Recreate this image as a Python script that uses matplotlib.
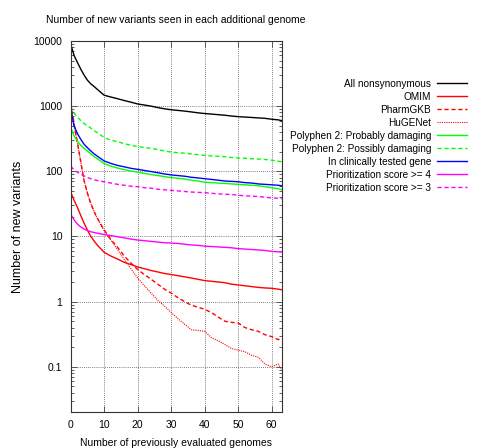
import matplotlib
matplotlib.use("Agg")
import matplotlib.pyplot as plt
from matplotlib.ticker import LogLocator, FixedLocator, NullFormatter, FixedFormatter

plt.rcParams['font.family'] = ['Liberation Sans', 'DejaVu Sans']

genomes = [0, 1, 2, 3, 4, 5, 6, 7, 8, 10, 12, 14, 16, 18, 20, 22, 24, 26, 28, 30,
           32, 34, 36, 38, 40, 42, 44, 46, 48, 50, 52, 54, 56, 58, 60, 62, 63]

all_nonsyn = [9000, 6000, 4700, 3700, 3000, 2500, 2200, 2000, 1800, 1470, 1380, 1300, 1220, 1150,
              1080, 1040, 1000, 950, 910, 880, 860, 840, 815, 790, 770, 755, 740, 725, 705, 690,
              680, 670, 660, 650, 630, 615, 600]
omim = [48, 36, 28, 21, 16, 12.5, 10, 8.5, 7.3, 5.7, 5.0, 4.5, 4.0, 3.7, 3.4, 3.2, 3.0, 2.85, 2.7,
        2.6, 2.5, 2.4, 2.3, 2.2, 2.1, 2.05, 2.0, 1.95, 1.85, 1.8, 1.75, 1.7, 1.65, 1.62, 1.6, 1.55, 1.52]
pharmgkb = [1100, 540, 280, 140, 72, 46, 32, 24, 19, 12.5, 9.0, 6.8, 5.0, 3.9, 3.1, 2.6, 2.2, 1.85,
            1.55, 1.35, 1.15, 1.0, 0.88, 0.82, 0.76, 0.68, 0.58, 0.5, 0.48, 0.47, 0.4, 0.37, 0.35,
            0.31, 0.29, 0.26, 0.28]
hugenet = [1000, 520, 270, 140, 72, 46, 32, 24, 18.5, 12.3, 8.7, 6.3, 4.4, 3.2, 2.3, 1.75, 1.35,
           1.05, 0.85, 0.68, 0.55, 0.45, 0.37, 0.36, 0.35, 0.28, 0.25, 0.22, 0.19, 0.18, 0.17, 0.15,
           0.14, 0.11, 0.1, 0.11, 0.09]
poly_prob = [470, 350, 290, 250, 225, 205, 185, 168, 155, 131, 120, 112, 106, 101, 97, 93, 89, 86,
             83, 80, 78, 76, 73, 71, 68, 67, 66, 65, 64, 63, 62, 61, 60, 58, 56, 54, 52]
poly_poss = [1000, 780, 680, 600, 540, 500, 460, 420, 390, 330, 300, 285, 265, 250, 240, 232, 225,
             215, 205, 197, 193, 190, 185, 180, 176, 172, 170, 168, 163, 160, 158, 156, 154, 152,
             148, 143, 140]
clinical = [900, 500, 380, 310, 260, 230, 205, 185, 170, 144, 132, 123, 117, 111, 107, 103, 99, 95,
            91, 88, 86, 84, 81, 79, 77, 75, 73, 71, 70, 69, 67, 66, 64, 63, 62, 61, 60]
score4 = [22, 18, 15.5, 14, 13, 12.3, 11.8, 11.5, 11.2, 10.7, 10.3, 9.9, 9.5, 9.1, 8.8, 8.6, 8.4,
          8.2, 8.0, 7.9, 7.8, 7.6, 7.4, 7.3, 7.1, 7.0, 6.9, 6.8, 6.7, 6.5, 6.4, 6.3, 6.2, 6.1, 5.9,
          5.8, 5.8]
score3 = [120, 105, 97, 90, 85, 80, 77, 74, 72, 69, 66, 63, 61, 59, 58, 56, 55, 53, 52, 51, 50, 49,
          48, 47.5, 47, 46, 45, 44.5, 44, 43, 42, 41.5, 41, 40, 39, 38.5, 38]

labels = ["All nonsynonymous", "OMIM", "PharmGKB", "HuGENet",
          "Polyphen 2: Probably damaging", "Polyphen 2: Possibly damaging",
          "In clinically tested gene", "Prioritization score >= 4", "Prioritization score >= 3"]
series = [all_nonsyn, omim, pharmgkb, hugenet, poly_prob, poly_poss, clinical, score4, score3]
colors = ["#000000", "#ff0000", "#ff0000", "#ff0000", "#00ff00", "#00ff00", "#0000ff",
          "#ff00ff", "#ff00ff"]
styles = ["-", "-", (0, (3, 2)), (0, (1, 1)), "-", (0, (3, 2)), "-", "-", (0, (3, 2))]
widths = [1.0, 1.0, 1.0, 0.8, 1.0, 1.0, 1.0, 1.0, 1.0]

y_ticks = [0.1, 1, 10, 100, 1000, 10000]
y_tick_labels = ["0.1", "1", "10", "100", "1000", "10000"]
x_ticks = [0, 10, 20, 30, 40, 50, 60]

fig = plt.figure(figsize=(4.95, 4.48), dpi=100)
ax = fig.add_axes([0.1428, 0.081, 0.4263, 0.8275])

for vals, lab, c, ls, lw in zip(series, labels, colors, styles, widths):
    ax.plot(genomes, vals, color=c, linestyle=ls, linewidth=lw, label=lab)

ax.set_yscale('log')
ax.set_xlim(0, 63)
ax.set_ylim(0.0204, 10000)
ax.yaxis.set_major_locator(FixedLocator(y_ticks))
ax.yaxis.set_major_formatter(FixedFormatter(y_tick_labels))
ax.yaxis.set_minor_locator(LogLocator(base=10, subs=range(2, 10)))
ax.yaxis.set_minor_formatter(NullFormatter())
ax.set_xticks(x_ticks)
ax.grid(True, which='major', color='#555555', linestyle=(0, (1, 1.5)), linewidth=0.6)
ax.tick_params(which='both', direction='in', top=True, right=True, labelsize=7.5,
               color='#444444')
ax.tick_params(which='major', length=4, width=0.6, pad=6)
ax.tick_params(which='minor', length=2.5, width=0.6)
for sp in ax.spines.values():
    sp.set_color('#333333')
    sp.set_linewidth(0.8)

ax.set_title("Number of new variants seen in each additional genome", fontsize=7.5, pad=13)
ax.set_xlabel("Number of previously evaluated genomes", fontsize=7.5, labelpad=5.5)
ax.set_ylabel("Number of new variants", fontsize=9, labelpad=7)

ax.legend(loc='upper right', bbox_to_anchor=(467 / 495, 1 - 79 / 448),
          bbox_transform=fig.transFigure, markerfirst=False, frameon=False,
          fontsize=7.2, handlelength=3.0, handletextpad=0.6, labelspacing=0.3,
          borderpad=0, borderaxespad=0)

fig.savefig("out.png", dpi=100)
